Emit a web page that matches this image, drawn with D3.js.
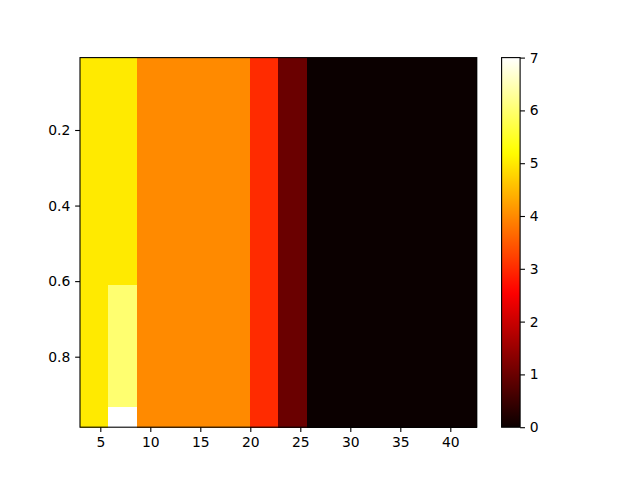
<!DOCTYPE html>
<html>
<head>
<meta charset="utf-8">
<script src="https://cdn.jsdelivr.net/npm/d3@7"></script>
<style>
  body { margin: 0; background: #fff; }
  text { font-family: "DejaVu Sans", sans-serif; font-size: 13.9px; fill: #000; }
</style>
</head>
<body>
<svg id="chart" width="640" height="480"></svg>
<script>
// column edges along x
const xEdges = [2.97, 5.74, 8.67, 11.5, 14.33, 17.15, 19.97, 22.8, 25.7, 28.53, 31.36, 34.18, 37.0, 39.83, 42.65]
// row band edges along y
const yEdges = [0.0084, 0.609, 0.9336, 0.9866]
// value in each band (rows) for each column
const bandValues = [
  [5, 5, 4, 4, 4, 4, 3, 1, 0, 0, 0, 0, 0, 0],
  [5, 6, 4, 4, 4, 4, 3, 1, 0, 0, 0, 0, 0, 0],
  [5, 7, 4, 4, 4, 4, 3, 1, 0, 0, 0, 0, 0, 0]
]
const xTicks = [5, 10, 15, 20, 25, 30, 35, 40]
const yTicks = [0.2, 0.4, 0.6, 0.8]
const cTicks = [0, 1, 2, 3, 4, 5, 6, 7]

// matplotlib "hot" colormap
function hot(t) {
  t = Math.max(0, Math.min(1, t))
  const r = t < 0.365079 ? 0.0416 + (1 - 0.0416) * t / 0.365079 : 1
  const g = t < 0.365079 ? 0 : (t < 0.746032 ? (t - 0.365079) / (0.746032 - 0.365079) : 1)
  const b = t < 0.746032 ? 0 : (t - 0.746032) / (1 - 0.746032)
  return d3.rgb(r * 255, g * 255, b * 255).formatHex()
}

const svg = d3.select("#chart")
const margin = {top: 57.6, left: 80, bottom: 427.2, right: 476.8}

const x = d3.scaleLinear().domain([xEdges[0], xEdges[xEdges.length - 1]]).range([margin.left, margin.right])
const y = d3.scaleLinear().domain([yEdges[0], yEdges[yEdges.length - 1]]).range([margin.top, margin.bottom])
const color = d3.scaleLinear().domain([0, 7]).range([0, 1])

// cells
const cells = []
bandValues.forEach(function(row, j) {
  row.forEach(function(v, i) {
    cells.push({x0: xEdges[i], x1: xEdges[i + 1], y0: yEdges[j], y1: yEdges[j + 1], v: v})
  })
})

svg.append("g").selectAll("rect")
  .data(cells)
  .enter().append("rect")
  .attr("x", function(d) { return x(d.x0) })
  .attr("y", function(d) { return y(d.y0) })
  .attr("width", function(d) { return x(d.x1) - x(d.x0) + 0.3 })
  .attr("height", function(d) { return y(d.y1) - y(d.y0) + 0.3 })
  .attr("fill", function(d) { return hot(color(d.v)) })
  .attr("shape-rendering", "crispEdges")

const xAxis = d3.axisBottom(x).tickValues(xTicks).tickSize(4.86).tickPadding(4.86).tickFormat(d3.format("d"))
const yAxis = d3.axisLeft(y).tickValues(yTicks).tickSize(4.86).tickPadding(4.86).tickFormat(d3.format(".1f"))

const gx = svg.append("g").attr("transform", "translate(0," + margin.bottom + ")").call(xAxis)
const gy = svg.append("g").attr("transform", "translate(" + margin.left + ",0)").call(yAxis)
gx.select(".domain").remove()
gy.select(".domain").remove()
svg.selectAll(".tick line").attr("stroke", "#000").attr("stroke-width", 1.1)
svg.selectAll(".tick text").attr("font-size", null).attr("font-family", null).attr("fill", "#000")

// spines
svg.append("rect")
  .attr("x", margin.left).attr("y", margin.top)
  .attr("width", margin.right - margin.left).attr("height", margin.bottom - margin.top)
  .attr("fill", "none").attr("stroke", "#000").attr("stroke-width", 1.1)

// colorbar
const cb = {left: 501.6, right: 520.1}
const cy = d3.scaleLinear().domain([0, 7]).range([margin.bottom, margin.top])
const grad = svg.append("defs").append("linearGradient")
  .attr("id", "hotgrad").attr("x1", 0).attr("y1", 1).attr("x2", 0).attr("y2", 0)
d3.range(0, 1.0001, 0.02).forEach(function(t) {
  grad.append("stop").attr("offset", t).attr("stop-color", hot(t))
})
svg.append("rect")
  .attr("x", cb.left).attr("y", margin.top)
  .attr("width", cb.right - cb.left).attr("height", margin.bottom - margin.top)
  .attr("fill", "url(#hotgrad)")
const cAxis = d3.axisRight(cy).tickValues(cTicks).tickSize(4.86).tickPadding(4.86).tickFormat(d3.format("d"))
const gc = svg.append("g").attr("transform", "translate(" + cb.right + ",0)").call(cAxis)
gc.select(".domain").remove()
gc.selectAll(".tick line").attr("stroke", "#000").attr("stroke-width", 1.1)
gc.selectAll(".tick text").attr("font-size", null).attr("font-family", null).attr("fill", "#000")
svg.append("rect")
  .attr("x", cb.left).attr("y", margin.top)
  .attr("width", cb.right - cb.left).attr("height", margin.bottom - margin.top)
  .attr("fill", "none").attr("stroke", "#000").attr("stroke-width", 1.1)
</script>
</body>
</html>
